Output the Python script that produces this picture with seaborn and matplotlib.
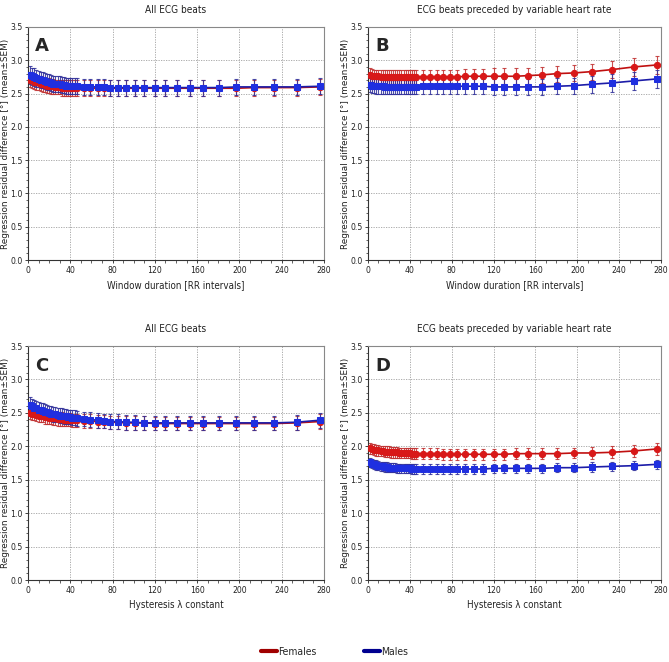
import numpy as np
import pandas as pd
import matplotlib
matplotlib.use("Agg")
import matplotlib.pyplot as plt
import seaborn as sns
from matplotlib.lines import Line2D
from matplotlib.ticker import MultipleLocator

sns.set_style("white")
plt.rcParams['font.family'] = ['DejaVu Sans']
plt.rcParams['font.stretch'] = 'condensed'

x_vals = [2, 4, 6, 8, 10, 12, 14, 16, 18, 20, 22, 24, 26, 28, 30, 32, 34, 36, 38, 40, 42, 44, 46,
          53, 59, 66, 72, 78, 85, 93, 101, 110, 120, 130, 141, 153, 166, 181, 197, 214, 233, 254, 276]

# Panel A
a_fem = [2.71, 2.70, 2.68, 2.67, 2.66, 2.65, 2.64, 2.63, 2.62, 2.62, 2.61, 2.61, 2.60, 2.60, 2.60, 2.59, 2.59, 2.59, 2.59, 2.58, 2.58, 2.58, 2.58,
         2.58, 2.58, 2.58, 2.58, 2.58, 2.58, 2.58, 2.58, 2.58, 2.58, 2.58, 2.58, 2.58, 2.58, 2.58, 2.58, 2.59, 2.59, 2.59, 2.60]
a_fem_sem = [0.11, 0.11, 0.11, 0.11, 0.11, 0.11, 0.11, 0.11, 0.11, 0.11, 0.11, 0.11, 0.11, 0.11, 0.11, 0.12, 0.12, 0.12, 0.12, 0.12, 0.12, 0.12, 0.12,
             0.12, 0.12, 0.12, 0.12, 0.12, 0.12, 0.12, 0.12, 0.12, 0.12, 0.12, 0.12, 0.12, 0.12, 0.12, 0.12, 0.12, 0.12, 0.12, 0.12]
a_mal = [2.78, 2.76, 2.75, 2.73, 2.72, 2.71, 2.70, 2.69, 2.68, 2.67, 2.66, 2.65, 2.65, 2.64, 2.64, 2.63, 2.63, 2.62, 2.62, 2.62, 2.61, 2.61, 2.61,
         2.60, 2.60, 2.60, 2.60, 2.59, 2.59, 2.59, 2.59, 2.59, 2.59, 2.59, 2.59, 2.59, 2.59, 2.59, 2.60, 2.60, 2.60, 2.60, 2.61]
a_mal_sem = [0.13, 0.13, 0.13, 0.13, 0.12, 0.12, 0.12, 0.12, 0.12, 0.12, 0.12, 0.12, 0.12, 0.12, 0.12, 0.12, 0.12, 0.12, 0.12, 0.12, 0.12, 0.12, 0.12,
             0.12, 0.12, 0.12, 0.12, 0.12, 0.12, 0.12, 0.12, 0.12, 0.12, 0.12, 0.12, 0.12, 0.12, 0.12, 0.12, 0.12, 0.12, 0.12, 0.12]

# Panel B
b_fem = [2.78, 2.77, 2.76, 2.76, 2.76, 2.75, 2.75, 2.75, 2.75, 2.75, 2.75, 2.75, 2.75, 2.75, 2.75, 2.75, 2.75, 2.75, 2.75, 2.75, 2.75, 2.75, 2.75,
         2.75, 2.75, 2.75, 2.75, 2.75, 2.75, 2.76, 2.76, 2.76, 2.76, 2.76, 2.76, 2.77, 2.78, 2.80, 2.81, 2.83, 2.86, 2.90, 2.93]
b_fem_sem = [0.10, 0.10, 0.10, 0.10, 0.10, 0.10, 0.10, 0.10, 0.10, 0.10, 0.10, 0.10, 0.10, 0.10, 0.10, 0.10, 0.10, 0.10, 0.10, 0.10, 0.10, 0.10, 0.10,
             0.11, 0.11, 0.11, 0.11, 0.11, 0.11, 0.11, 0.11, 0.11, 0.12, 0.12, 0.12, 0.12, 0.12, 0.12, 0.12, 0.12, 0.13, 0.13, 0.14]
b_mal = [2.63, 2.62, 2.62, 2.61, 2.61, 2.61, 2.61, 2.60, 2.60, 2.60, 2.60, 2.60, 2.60, 2.60, 2.60, 2.60, 2.60, 2.60, 2.60, 2.60, 2.60, 2.60, 2.60,
         2.61, 2.61, 2.61, 2.61, 2.61, 2.61, 2.61, 2.61, 2.61, 2.60, 2.60, 2.60, 2.60, 2.60, 2.61, 2.62, 2.64, 2.66, 2.69, 2.72]
b_mal_sem = [0.11, 0.11, 0.11, 0.11, 0.11, 0.11, 0.11, 0.11, 0.11, 0.11, 0.11, 0.11, 0.11, 0.11, 0.11, 0.11, 0.11, 0.11, 0.11, 0.11, 0.11, 0.11, 0.11,
             0.11, 0.11, 0.11, 0.11, 0.11, 0.11, 0.11, 0.11, 0.11, 0.12, 0.12, 0.12, 0.12, 0.12, 0.12, 0.12, 0.13, 0.13, 0.13, 0.13]

# Panel C
c_fem = [2.50, 2.49, 2.48, 2.47, 2.46, 2.45, 2.45, 2.44, 2.44, 2.43, 2.43, 2.42, 2.42, 2.41, 2.41, 2.41, 2.40, 2.40, 2.40, 2.40, 2.39, 2.39, 2.39,
         2.38, 2.38, 2.37, 2.37, 2.36, 2.36, 2.35, 2.35, 2.35, 2.34, 2.34, 2.34, 2.34, 2.34, 2.34, 2.34, 2.34, 2.34, 2.35, 2.37]
c_fem_sem = [0.09, 0.09, 0.09, 0.09, 0.09, 0.09, 0.09, 0.10, 0.10, 0.10, 0.10, 0.10, 0.10, 0.10, 0.10, 0.10, 0.10, 0.10, 0.10, 0.10, 0.10, 0.10, 0.10,
             0.10, 0.10, 0.10, 0.10, 0.10, 0.10, 0.10, 0.10, 0.10, 0.10, 0.10, 0.10, 0.10, 0.10, 0.10, 0.10, 0.10, 0.10, 0.11, 0.11]
c_mal = [2.62, 2.60, 2.58, 2.57, 2.55, 2.54, 2.53, 2.52, 2.51, 2.50, 2.49, 2.48, 2.48, 2.47, 2.46, 2.46, 2.45, 2.45, 2.44, 2.44, 2.43, 2.43, 2.42,
         2.41, 2.40, 2.39, 2.38, 2.37, 2.37, 2.36, 2.36, 2.35, 2.35, 2.35, 2.35, 2.35, 2.35, 2.35, 2.35, 2.35, 2.35, 2.36, 2.39]
c_mal_sem = [0.11, 0.11, 0.11, 0.11, 0.11, 0.11, 0.11, 0.11, 0.11, 0.11, 0.11, 0.11, 0.11, 0.11, 0.11, 0.11, 0.11, 0.11, 0.11, 0.11, 0.11, 0.11, 0.11,
             0.11, 0.11, 0.11, 0.11, 0.11, 0.11, 0.11, 0.11, 0.11, 0.11, 0.11, 0.11, 0.11, 0.11, 0.11, 0.11, 0.11, 0.11, 0.11, 0.11]

# Panel D
d_fem = [1.97, 1.96, 1.95, 1.94, 1.94, 1.93, 1.93, 1.92, 1.92, 1.92, 1.91, 1.91, 1.91, 1.91, 1.90, 1.90, 1.90, 1.90, 1.90, 1.90, 1.89, 1.89, 1.89,
         1.89, 1.89, 1.89, 1.88, 1.88, 1.88, 1.88, 1.88, 1.88, 1.88, 1.88, 1.89, 1.89, 1.89, 1.89, 1.90, 1.90, 1.91, 1.93, 1.96]
d_fem_sem = [0.08, 0.08, 0.08, 0.08, 0.08, 0.08, 0.08, 0.08, 0.08, 0.08, 0.08, 0.08, 0.08, 0.08, 0.08, 0.08, 0.08, 0.08, 0.08, 0.08, 0.08, 0.08, 0.08,
             0.08, 0.08, 0.08, 0.08, 0.08, 0.08, 0.08, 0.08, 0.08, 0.08, 0.08, 0.08, 0.08, 0.08, 0.08, 0.08, 0.09, 0.09, 0.09, 0.09]
d_mal = [1.76, 1.74, 1.73, 1.72, 1.71, 1.70, 1.70, 1.69, 1.69, 1.68, 1.68, 1.68, 1.68, 1.67, 1.67, 1.67, 1.67, 1.67, 1.67, 1.67, 1.66, 1.66, 1.66,
         1.66, 1.66, 1.66, 1.66, 1.66, 1.66, 1.66, 1.66, 1.66, 1.67, 1.67, 1.67, 1.67, 1.67, 1.68, 1.68, 1.69, 1.70, 1.71, 1.73]
d_mal_sem = [0.07, 0.07, 0.07, 0.07, 0.07, 0.07, 0.07, 0.07, 0.07, 0.07, 0.07, 0.07, 0.07, 0.07, 0.07, 0.07, 0.07, 0.07, 0.07, 0.07, 0.07, 0.07, 0.07,
             0.07, 0.07, 0.07, 0.07, 0.07, 0.07, 0.07, 0.07, 0.07, 0.07, 0.07, 0.07, 0.07, 0.07, 0.07, 0.07, 0.07, 0.07, 0.07, 0.07]

panel_titles = ["All ECG beats", "ECG beats preceded by variable heart rate",
                "All ECG beats", "ECG beats preceded by variable heart rate"]
panel_letters = ["A", "B", "C", "D"]
x_labels = ["Window duration [RR intervals]", "Window duration [RR intervals]",
            "Hysteresis \u03bb constant", "Hysteresis \u03bb constant"]
y_label = "Regression residual difference [\u00b0] (mean\u00b1SEM)"
legend_labels = ["Females", "Males"]

panels = [
    (a_fem, a_fem_sem, a_mal, a_mal_sem),
    (b_fem, b_fem_sem, b_mal, b_mal_sem),
    (c_fem, c_fem_sem, c_mal, c_mal_sem),
    (d_fem, d_fem_sem, d_mal, d_mal_sem),
]

fig = plt.figure(figsize=(6.69, 6.62), dpi=100)
W, H = 669, 662
rects_px = [(28, 27, 324, 260), (368, 27, 661, 260), (28, 346, 324, 580), (368, 346, 661, 580)]

RED_LINE = "#c01010"
RED_MK = "#d81818"
RED_ERR = "#c03030"
BLUE_LINE = "#1c1ca8"
BLUE_MK = "#1f2fe0"
BLUE_ERR = "#30309a"

for i, (l, t, r, b) in enumerate(rects_px):
    ax = fig.add_axes([l / W, 1 - b / H, (r - l) / W, (b - t) / H])
    fem, fem_sem, mal, mal_sem = panels[i]
    df = pd.DataFrame({
        "x": x_vals * 2,
        "y": fem + mal,
        "sem": fem_sem + mal_sem,
        "sex": [legend_labels[0]] * len(x_vals) + [legend_labels[1]] * len(x_vals),
    })
    for sex, ecol, lcol, mcol, mk in [(legend_labels[0], RED_ERR, RED_LINE, RED_MK, "o"),
                                       (legend_labels[1], BLUE_ERR, BLUE_LINE, BLUE_MK, "s")]:
        sub = df[df["sex"] == sex]
        ax.errorbar(sub["x"], sub["y"], yerr=sub["sem"], fmt="none", ecolor=ecol,
                    elinewidth=0.8, capsize=1.5, capthick=0.8, alpha=0.85, zorder=2)
        sns.lineplot(data=sub, x="x", y="y", ax=ax, color=lcol, linewidth=1.2,
                     marker=mk, markersize=4.5, markerfacecolor=mcol, markeredgecolor=mcol,
                     legend=False, zorder=3)
    ax.set_xlim(0, 280)
    ax.set_ylim(0, 3.5)
    ax.xaxis.set_major_locator(MultipleLocator(40))
    ax.xaxis.set_minor_locator(MultipleLocator(10))
    ax.yaxis.set_minor_locator(MultipleLocator(0.1))
    ax.set_yticks(np.arange(0, 3.51, 0.5))
    ax.set_yticklabels([f"{v:.1f}" for v in np.arange(0, 3.51, 0.5)])
    ax.grid(True, which="major", linestyle=(0, (1.5, 1.5)), color="#a0a0a0", linewidth=0.6)
    ax.tick_params(axis="both", which="major", direction="out", length=2.5, width=0.6,
                   labelsize=6.2, colors="#222222", pad=1.5, left=True, bottom=True)
    ax.tick_params(axis="both", which="minor", direction="out", length=1.8, width=0.5,
                   colors="#222222", left=True, bottom=True)
    for s in ["left", "bottom"]:
        ax.spines[s].set_color("#333333")
        ax.spines[s].set_linewidth(0.8)
    for s in ["top", "right"]:
        ax.spines[s].set_color("#888888")
        ax.spines[s].set_linewidth(0.8)
    ax.set_xlabel(x_labels[i], fontsize=7, labelpad=4, color="#222222")
    ax.set_ylabel(y_label, fontsize=6.4, color="#222222", family=["DejaVu Sans"],
                  fontstretch="normal")
    ax.yaxis.set_label_coords(-18 / (r - l), 0.5)
    ax.set_title(panel_titles[i], fontsize=7.2, pad=10, color="#222222")
    ax.text(0.025, 0.955, panel_letters[i], transform=ax.transAxes, fontsize=13,
            fontweight="bold", va="top", ha="left", family=["DejaVu Sans"],
            fontstretch="normal")

handles = [Line2D([0], [0], color="#a00000", linewidth=3),
           Line2D([0], [0], color="#000090", linewidth=3)]
fig.legend(handles, legend_labels, loc="center", bbox_to_anchor=(0.5, 1 - 652 / H),
           ncol=2, frameon=False, fontsize=7.5, handlelength=1.6, handletextpad=0.1,
           columnspacing=4.5)

fig.savefig("out.png", dpi=100)
